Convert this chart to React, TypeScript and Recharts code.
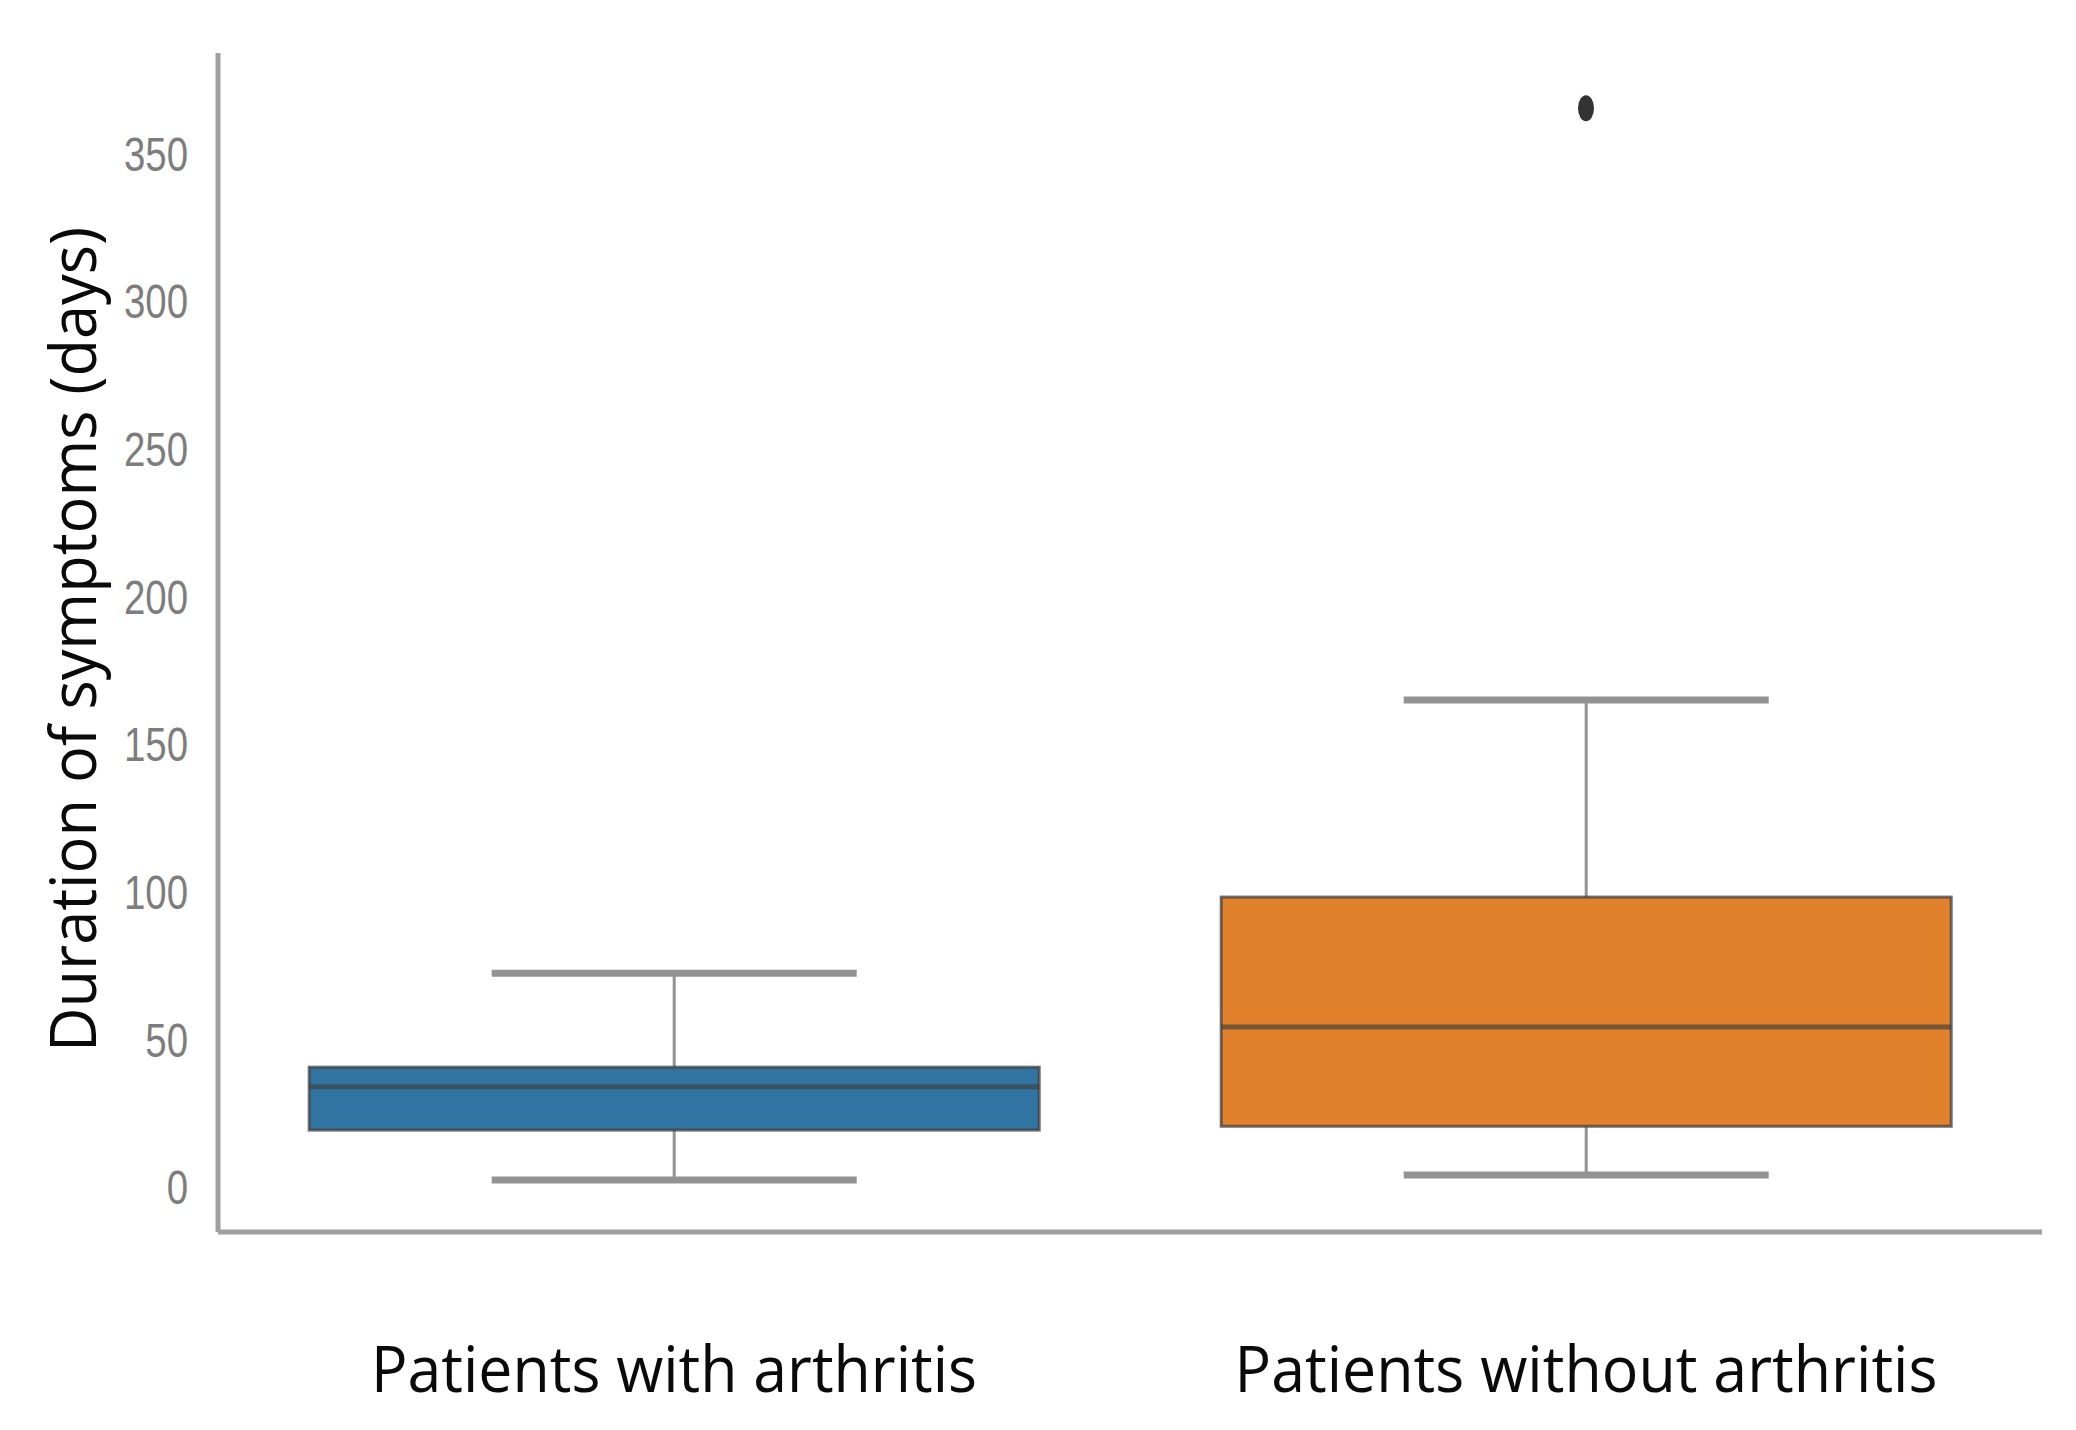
import React from 'react';
import { ComposedChart, Bar, Scatter, XAxis, YAxis } from 'recharts';

// box plot summary (days)
const groups = ['Patients with arthritis', 'Patients without arthritis'];
const whiskerLow = [2.4, 4.1];
const quartile1 = [19.3, 20.6];
const medians = [34, 54.2];
const quartile3 = [40.6, 98.2];
const whiskerHigh = [72.4, 164.9];
const outliers: (number | null)[] = [null, 365.3];
const boxColors = ['#3274a1', '#e1812c'];
const yTicks = [0, 50, 100, 150, 200, 250, 300, 350];

const data = groups.map((name, i) => ({
  name,
  box: [quartile1[i], quartile3[i]],
  low: whiskerLow[i],
  q1: quartile1[i],
  median: medians[i],
  q3: quartile3[i],
  high: whiskerHigh[i],
  outlier: outliers[i],
  color: boxColors[i],
}));

const labelWidths = [606, 703];
const EDGE = '#3f3f3f';
const WHISKER = '#939393';
const AXIS = '#a0a0a0';

const BoxShape = (props: any) => {
  const { x, y, width, height } = props;
  const d = props.payload ?? props;
  const top = Math.min(y, y + height);
  const bottom = Math.max(y, y + height);
  const ppu = (bottom - top) / (d.q3 - d.q1);
  const py = (v: number) => bottom - (v - d.q1) * ppu;
  const cx = x + width / 2;
  const capHalf = width / 4;
  return (
    <g>
      <line x1={cx} x2={cx} y1={py(d.high)} y2={top} stroke={WHISKER} strokeWidth={3} />
      <line x1={cx} x2={cx} y1={bottom} y2={py(d.low)} stroke={WHISKER} strokeWidth={3} />
      <line x1={cx - capHalf} x2={cx + capHalf} y1={py(d.high)} y2={py(d.high)} stroke={WHISKER} strokeWidth={7} />
      <line x1={cx - capHalf} x2={cx + capHalf} y1={py(d.low)} y2={py(d.low)} stroke={WHISKER} strokeWidth={7} />
      <rect x={x} y={top} width={width} height={bottom - top} fill={d.color} stroke={EDGE} strokeOpacity={0.75} strokeWidth={3} />
      <line x1={x} x2={x + width} y1={py(d.median)} y2={py(d.median)} stroke={EDGE} strokeOpacity={0.65} strokeWidth={5} />
    </g>
  );
};

const OutlierShape = (props: any) => {
  const { cx, cy } = props;
  const d = props.payload ?? {};
  if (d.outlier == null || cy == null || isNaN(cy)) return <g />;
  return <ellipse cx={cx} cy={cy} rx={8} ry={13} fill="#333333" />;
};

const YTick = (props: any) => {
  const { x, y, payload } = props;
  return (
    <g transform={`translate(${x},${y}) scale(0.8,1)`}>
      <text
        x={0}
        y={0}
        dy="0.36em"
        textAnchor="end"
        fontFamily="'Liberation Sans', Arial, sans-serif"
        fontSize={48}
        fill="#7d7d7d"
      >
        {payload.value}
      </text>
    </g>
  );
};

const XTick = (props: any) => {
  const { x, y, payload, index } = props;
  return (
    <text
      x={x}
      y={y + 160}
      textAnchor="middle"
      fontFamily="'Open Sans', sans-serif"
      fontSize={64}
      fill="#0a0a0a"
      textLength={labelWidths[index] ?? 650}
      lengthAdjust="spacingAndGlyphs"
    >
      {payload.value}
    </text>
  );
};

const YLabel = (props: any) => {
  const vb = props.viewBox || { x: 0, y: 53, width: 218, height: 1179 };
  const lx = vb.x + 96;
  const ly = vb.y + vb.height / 2 - 3;
  return (
    <text
      x={lx}
      y={ly}
      transform={`rotate(-90, ${lx}, ${ly})`}
      textAnchor="middle"
      fontFamily="'Open Sans', sans-serif"
      fontSize={64}
      fill="#0a0a0a"
      textLength={825}
      lengthAdjust="spacingAndGlyphs"
    >
      Duration of symptoms (days)
    </text>
  );
};

const App: React.FC = () => {
  return (
    <div style={{ position: 'absolute', left: 0, top: 0, width: 2076, height: 1430, background: '#ffffff' }}>
      <ComposedChart
        width={2076}
        height={1430}
        data={data}
        margin={{ top: 53, right: 34, left: 0, bottom: 0 }}
        barCategoryGap="10%"
      >
        <XAxis
          dataKey="name"
          type="category"
          height={198}
          axisLine={{ stroke: AXIS, strokeWidth: 5 }}
          tickLine={false}
          tickSize={0}
          tickMargin={0}
          tick={<XTick />}
          interval={0}
        />
        <YAxis
          type="number"
          width={218}
          domain={[-15.2, 384]}
          allowDataOverflow
          ticks={yTicks}
          axisLine={{ stroke: AXIS, strokeWidth: 5 }}
          tickLine={false}
          tickSize={0}
          tickMargin={30}
          tick={<YTick />}
          interval={0}
          label={{ content: <YLabel /> }}
        />
        <Bar dataKey="box" shape={<BoxShape />} isAnimationActive={false} />
        <Scatter dataKey="outlier" shape={<OutlierShape />} isAnimationActive={false} />
      </ComposedChart>
    </div>
  );
};

export default App;
